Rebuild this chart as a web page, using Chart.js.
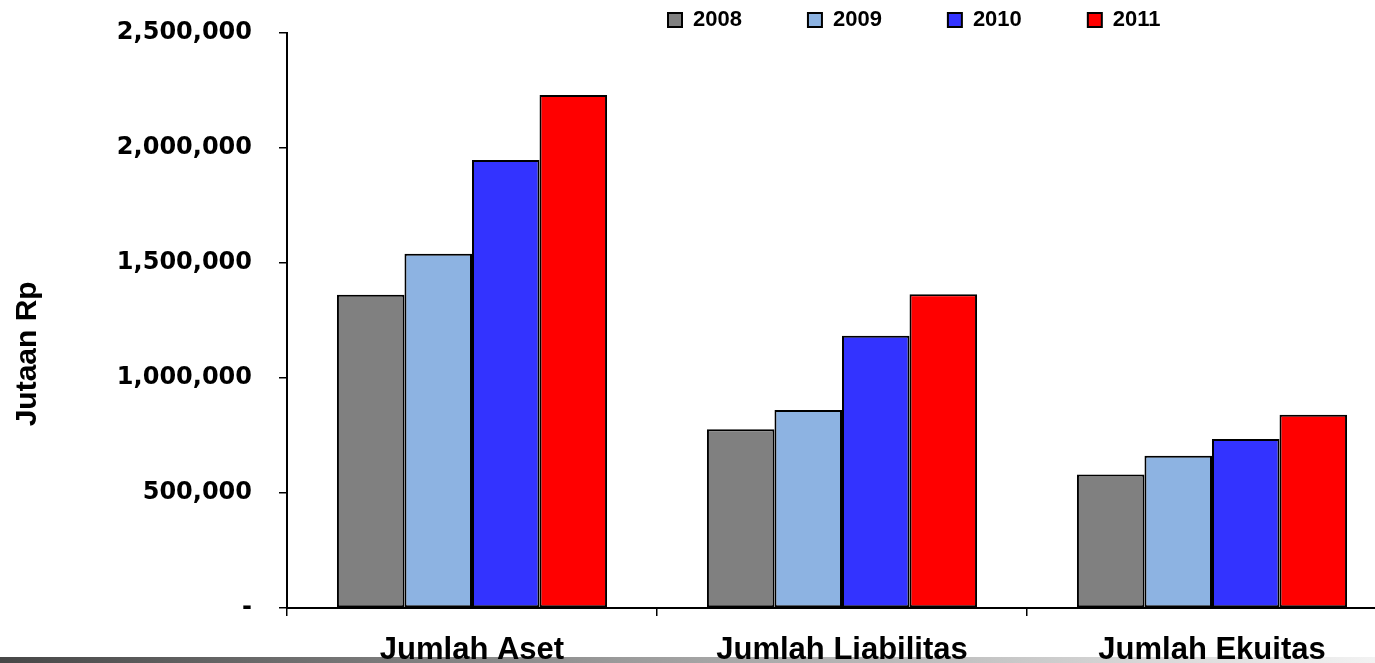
<!DOCTYPE html>
<html lang="id">
<head>
    <meta charset="UTF-8">
    <title>Jumlah Aset, Liabilitas dan Ekuitas</title>
    <script src="https://cdn.jsdelivr.net/npm/chart.js"></script>
    <style>
        html, body {
            margin: 0;
            padding: 0;
            background: #ffffff;
            width: 1375px;
            height: 663px;
            overflow: hidden;
            position: relative;
        }
        /* grey strip along the bottom edge */
        .strip {
            position: absolute;
            left: 0;
            bottom: 0;
            width: 1375px;
            height: 6px;
            background: linear-gradient(to right, #474747, #9a9a9a 45%, #f2f2f2);
            z-index: 0;
        }
        #chart {
            position: absolute;
            left: 0;
            top: 0;
            z-index: 1;
        }
    </style>
</head>
<body>
    <div class="strip"></div>
    <canvas id="chart" width="1420" height="663"></canvas>

    <script>
        // categories and series (Jutaan Rp)
        const categories = ['Jumlah Aset', 'Jumlah Liabilitas', 'Jumlah Ekuitas'];
        const years = ['2008', '2009', '2010', '2011'];
        const v2008 = [1362000, 777000, 580000];
        const v2009 = [1540000, 861000, 662000];
        const v2010 = [1948000, 1184000, 735000];
        const v2011 = [2230000, 1364000, 840000];
        const yTicks = [0, 500000, 1000000, 1500000, 2000000, 2500000];
        const yTickLabels = ['-', '500,000', '1,000,000', '1,500,000', '2,000,000', '2,500,000'];

        const colors = ['#808080', '#8db3e2', '#3333ff', '#ff0000'];
        const series = [v2008, v2009, v2010, v2011];

        Chart.defaults.font.family = "'Liberation Sans', Arial, sans-serif";
        Chart.defaults.font.weight = 'bold';
        Chart.defaults.color = '#000000';

        // put the legend where the original has it (legend clips to its own box)
        const legendPlace = {
            id: 'legendPlace',
            afterLayout(chart) {
                const lg = chart.legend;
                const pad = lg.options.labels.padding;
                const w = lg.right - lg.left;
                lg.left = 668 - pad;
                lg.right = lg.left + w;
                lg.top = 9 - pad;
                lg.bottom = 36;
            }
        };

        new Chart(document.getElementById('chart'), {
            type: 'bar',
            data: {
                labels: categories,
                datasets: years.map((y, i) => ({
                    label: y,
                    data: series[i],
                    backgroundColor: colors[i],
                    borderColor: '#000000',
                    borderWidth: 2,
                    borderSkipped: false,
                    categoryPercentage: 0.73,
                    barPercentage: 1.0
                }))
            },
            options: {
                responsive: false,
                animation: false,
                devicePixelRatio: 1,
                layout: { padding: { left: 0, right: 23, top: 0, bottom: 0 } },
                plugins: {
                    tooltip: { enabled: false },
                    legend: {
                        position: 'top',
                        align: 'start',
                        maxHeight: 33,
                        labels: {
                            boxWidth: 14,
                            boxHeight: 14,
                            padding: 66,
                            font: { size: 22, weight: 'bold' }
                        }
                    }
                },
                scales: {
                    x: {
                        afterFit(scale) { scale.height = 55; },
                        grid: {
                            display: true,
                            offset: true,
                            drawOnChartArea: false,
                            drawTicks: true,
                            tickLength: 8,
                            color: '#000000',
                            lineWidth: 1.5
                        },
                        border: { display: true, color: '#000000', width: 2 },
                        ticks: {
                            padding: 16,
                            font: { size: 31, weight: 'bold' }
                        }
                    },
                    y: {
                        min: 0,
                        max: 2500000,
                        afterFit(scale) {
                            scale.width = 287;
                            scale.paddingTop = 0;
                            scale.paddingBottom = 0;
                        },
                        afterBuildTicks(scale) {
                            scale.ticks = yTicks.map(v => ({ value: v }));
                        },
                        grid: {
                            display: true,
                            drawOnChartArea: false,
                            drawTicks: true,
                            tickLength: 8,
                            color: '#000000',
                            lineWidth: 1.5
                        },
                        border: { display: true, color: '#000000', width: 2 },
                        ticks: {
                            padding: 27,
                            font: { family: "'DejaVu Sans', sans-serif", size: 24, weight: 'bold' },
                            callback: (v) => {
                                const k = yTicks.indexOf(v);
                                return k >= 0 ? yTickLabels[k] : '';
                            }
                        },
                        title: {
                            display: true,
                            // trailing spaces push the words a little below the axis middle, as in the original
                            text: 'Jutaan Rp        ',
                            padding: { top: 10, bottom: 0 },
                            font: { size: 30, weight: 'bold' }
                        }
                    }
                }
            },
            plugins: [legendPlace]
        });
    </script>
</body>
</html>
